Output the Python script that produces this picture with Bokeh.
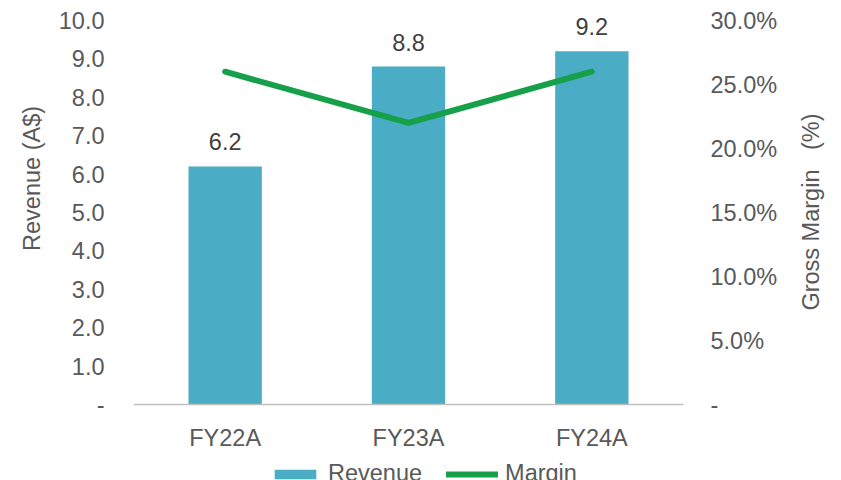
import math
from bokeh.plotting import figure
from bokeh.models import (ColumnDataSource, Range1d, LinearAxis, FixedTicker, Label,
                          NumeralTickFormatter, LabelSet, Legend, LegendItem)
from bokeh.core.properties import value
from bokeh.embed import file_html
from bokeh.resources import INLINE

categories = ["FY22A", "FY23A", "FY24A"]
revenue = [6.2, 8.8, 9.2]
margin = [0.26, 0.22, 0.26]
revenue_labels = ["6.2", "8.8", "9.2"]
left_ticks = [0, 1, 2, 3, 4, 5, 6, 7, 8, 9, 10]
right_ticks = [0, 0.05, 0.10, 0.15, 0.20, 0.25, 0.30]

FONT = "Liberation Sans"
TXT = "#595959"
FS = "23.5px"

# layout constants (pixels): plot area left/right, top value line, zero line
W, H = 841, 480
LEFT, PLOT_R = 133, 683
TOP, BASE = 20, 404
REV_MAX, MAR_MAX = 10.0, 0.30
below_frac = (H - BASE) / (BASE - TOP)
above_frac = TOP / (BASE - TOP)
n = len(categories)
unit_px = (PLOT_R - LEFT) / n

# category slots: each category sits at the middle of its slot
xpos = [i + 0.5 for i in range(n)]

src = ColumnDataSource(dict(x=xpos, cat=categories, rev=revenue, mar=margin,
                            lab=revenue_labels))

p = figure(width=W, height=H, x_range=Range1d(0, (W - LEFT) / unit_px),
           y_range=Range1d(-REV_MAX * below_frac, REV_MAX * (1 + above_frac)),
           output_backend="svg", toolbar_location=None, min_border_left=LEFT,
           min_border_right=0, min_border_top=0, min_border_bottom=0,
           x_axis_location=None)
p.outline_line_color = None
p.xgrid.grid_line_color = None
p.ygrid.grid_line_color = None
p.background_fill_color = "white"
p.border_fill_color = "white"

p.extra_y_ranges = {"margin": Range1d(-MAR_MAX * below_frac, MAR_MAX * (1 + above_frac))}

bars = p.vbar(x="x", top="rev", width=0.4, source=src, fill_color="#4BACC6",
              line_color=None)
line = p.line(x="x", y="mar", source=src, y_range_name="margin",
              line_color="#17A04A", line_width=6, line_cap="round", line_join="miter")

labels = LabelSet(x="x", y="rev", text="lab", source=src, text_align="center",
                  text_baseline="alphabetic", y_offset=16, text_font=value(FONT),
                  text_font_size=value(FS), text_color="#404040")
p.add_layout(labels)

# category axis, fixed on the zero line, spanning the category slots
xa = LinearAxis(fixed_location=0, ticker=FixedTicker(ticks=xpos), bounds=(0, n))
xa.major_label_overrides = dict(zip(xpos, categories))
xa.axis_line_color = "#BFBFBF"
xa.axis_line_width = 1.5
xa.major_tick_line_color = None
xa.minor_tick_line_color = None
xa.major_label_standoff = 14
xa.major_label_text_font = FONT
xa.major_label_text_font_size = FS
xa.major_label_text_color = TXT
p.add_layout(xa, "below")

# left axis
ya = p.yaxis[0]
ya.ticker = FixedTicker(ticks=left_ticks)
ya.formatter = NumeralTickFormatter(format="0.0")
ya.major_label_overrides = {0: "-"}
ya.axis_line_color = None
ya.major_tick_line_color = None
ya.minor_tick_line_color = None
ya.major_label_standoff = 23
ya.major_label_text_font = FONT
ya.major_label_text_font_size = FS
ya.major_label_text_color = TXT
ya.axis_label = "\u00a0" * 19 + "Revenue (A$)"
ya.axis_label_text_font = FONT
ya.axis_label_text_font_size = FS
ya.axis_label_text_font_style = "normal"
ya.axis_label_text_color = TXT
ya.axis_label_standoff = 11

# right axis, fixed at the right end of the category slots
ra = LinearAxis(y_range_name="margin", ticker=FixedTicker(ticks=right_ticks),
                formatter=NumeralTickFormatter(format="0.0%"), fixed_location=n)
ra.major_label_overrides = {0: "-"}
ra.axis_line_color = None
ra.major_tick_line_color = None
ra.minor_tick_line_color = None
ra.major_label_standoff = 21
ra.major_label_text_font = FONT
ra.major_label_text_font_size = FS
ra.major_label_text_color = TXT
p.add_layout(ra, "right")

# right axis title, reading bottom to top
TITLE_X, TITLE_Y = 810, 211.5
rt = Label(x=(TITLE_X - LEFT) / unit_px, y=REV_MAX * (BASE - TITLE_Y) / (BASE - TOP),
           text="Gross Margin" + "\u00a0" * 3 + "(%)", angle=math.pi / 2,
           text_align="center", text_baseline="middle", text_font=FONT,
           text_font_size=FS, text_color=TXT)
p.add_layout(rt)

legend = Legend(items=[LegendItem(label="Revenue", renderers=[bars]),
                       LegendItem(label="Margin", renderers=[line])],
                location=(136, -7), orientation="horizontal",
                glyph_width=52, glyph_height=12, label_standoff=7, spacing=24,
                padding=0, margin=0, border_line_color=None,
                background_fill_alpha=0, label_text_font=FONT,
                label_text_font_size=FS, label_text_color=TXT)
p.add_layout(legend, "center")

open("out.html", "w").write(file_html(p, INLINE))
